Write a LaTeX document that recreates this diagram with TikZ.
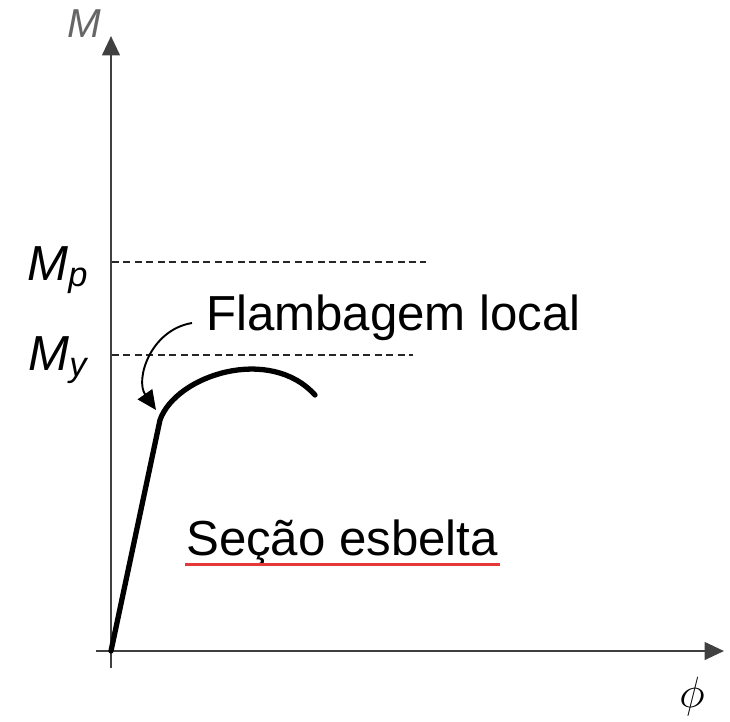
\documentclass[tikz,border=0pt]{standalone}
\usepackage{fontspec}
\setmainfont{Liberation Sans}
\usetikzlibrary{arrows.meta,positioning}

\begin{document}
\begin{tikzpicture}[x=0.02cm, y=-0.02cm, >={Triangle[length=11pt,width=10pt]},
  font=\fontsize{28}{34}\selectfont]

\useasboundingbox (0,0) rectangle (730,721);

% Axes
\coordinate (O) at (111,651);
\coordinate (ytip) at (111,36);
\coordinate (xtip) at (724,651);
\draw[->, line width=1.4pt, black!75] (111,668) -- (ytip);
\draw[->, line width=1.4pt, black!75] (96,651) -- (xtip);
\node[font=\fontsize{23}{28}\selectfont\itshape, black!60] (Mlab) at (84,24) {M};
\node[font=\fontsize{24}{28}\selectfont\itshape] (philab) at (692,697) {$\phi$};

% Reference levels
\node[font=\fontsize{28}{34}\selectfont\itshape] (Mp) at (58,270) {M\textsubscript{p}};
\node[font=\fontsize{28}{34}\selectfont\itshape] (My) at (58,360) {M\textsubscript{y}};
\draw[dash pattern=on 4pt off 2.5pt, line width=1.4pt, black!85] (112,262) -- (426,262);
\draw[dash pattern=on 4pt off 2.5pt, line width=1.4pt, black!85] (112,355) -- (413,355);

% Moment-curvature curve
\coordinate (kink) at (160,420);
\draw[line width=3pt, line cap=round] (O) -- (kink)
  .. controls (176,375) and (270,345) .. (315,395);

% Local buckling label
\node[anchor=west] (flamb) at (200,318) {Flambagem local};
\draw[->, line width=1.1pt] (flamb.west) ++(-8,5)
  .. controls (150,330) and (135,380) .. (156,410);

% Section label
\node[anchor=west] (secao) at (180,543) {Seção esbelta};
\draw[red!75!white!90!black, line width=1.3pt] (secao.base west) ++(5,9) -- ++(315,0);

\end{tikzpicture}
\end{document}
